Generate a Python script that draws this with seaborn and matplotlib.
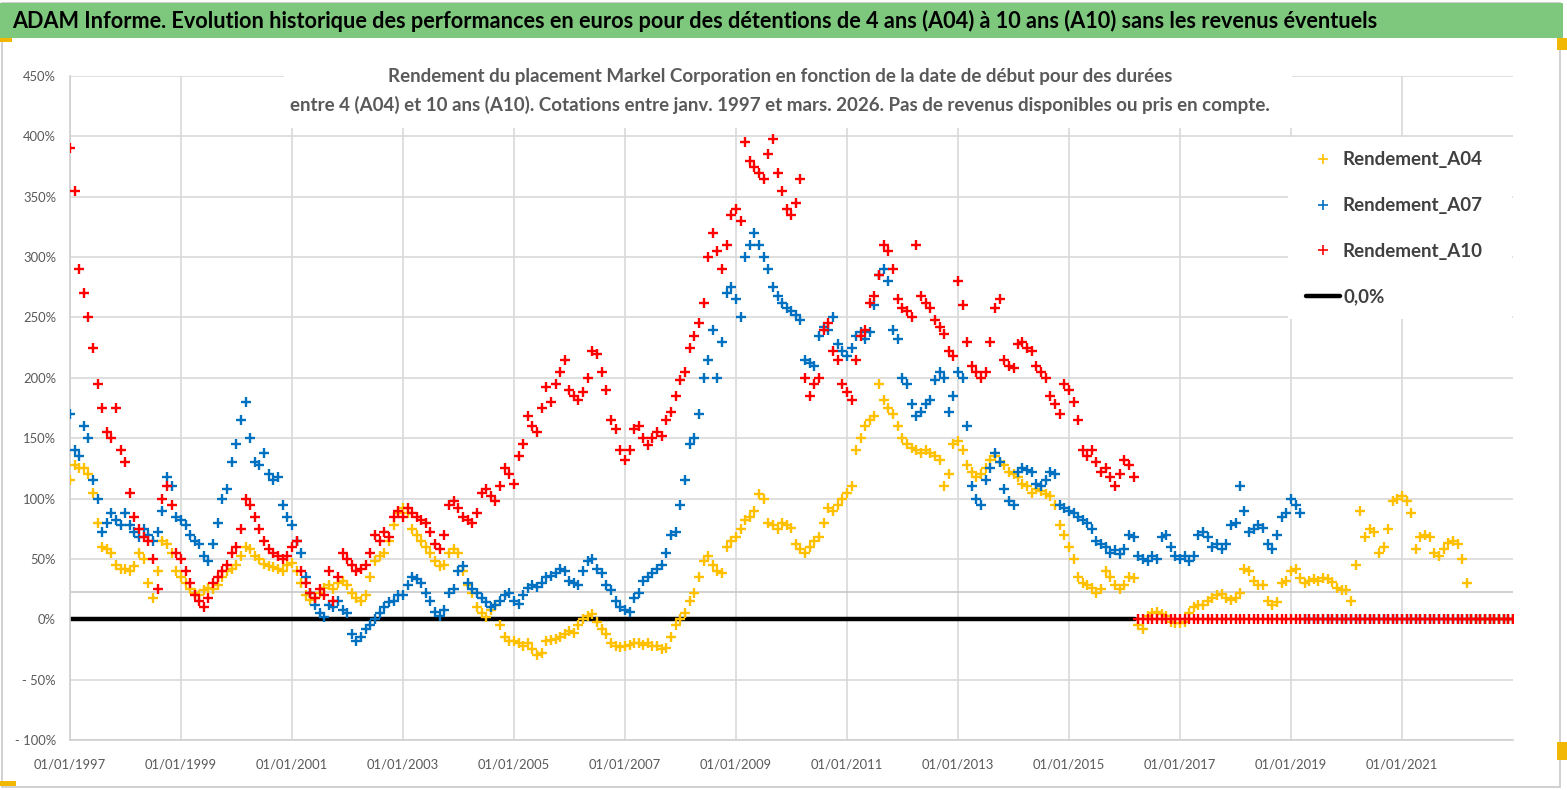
import numpy as np
import pandas as pd
import matplotlib
matplotlib.use("Agg")
import matplotlib.pyplot as plt
import matplotlib.dates as mdates
from matplotlib.lines import Line2D
from matplotlib.patches import Rectangle
import seaborn as sns

# ---------------- data (monthly readings, % return) ----------------
A04_START = "1997-01-01"
A04_VALUES = [
    115, 128, 125, 125, 120, 105, 80, 60, 58, 55, 45, 42,          # 1997
    42, 40, 44, 55, 50, 30, 18, 40, 65, 62, 55, 40,                # 1998
    35, 30, 25, 22, 20, 24, 26, 25, 28, 35, 40, 42,                # 1999
    45, 52, 60, 58, 52, 50, 46, 44, 43, 42, 40, 45,                # 2000
    47, 40, 30, 20, 16, 18, 22, 26, 28, 25, 30, 32,                # 2001
    28, 22, 18, 15, 20, 35, 48, 52, 55, 65, 78, 88,                # 2002
    92, 88, 75, 70, 65, 60, 55, 48, 44, 45, 55, 58,                # 2003
    55, 40, 28, 22, 10, 5, 2, 8, 12, -5, -15, -18,                 # 2004
    -18, -20, -22, -20, -25, -30, -28, -18, -17, -16, -15, -12,    # 2005
    -10, -11, -5, 0, 3, 4, -2, -8, -12, -20, -22, -23,             # 2006
    -22, -21, -20, -20, -21, -20, -22, -22, -25, -24, -15, -5,     # 2007
    0, 5, 15, 22, 35, 48, 52, 45, 40, 38, 60, 65,                  # 2008
    68, 75, 82, 85, 90, 104, 100, 80, 78, 75, 80, 78,              # 2009
    76, 62, 58, 55, 60, 65, 68, 80, 92, 90, 95, 100,               # 2010
    105, 110, 140, 150, 160, 165, 168, 195, 182, 175, 170, 160,    # 2011
    150, 145, 142, 140, 138, 140, 138, 135, 132, 110, 120, 145,    # 2012
    148, 140, 128, 122, 118, 120, 125, 132, 135, 130, 128, 122,    # 2013
    120, 118, 112, 110, 105, 108, 106, 104, 102, 95, 78, 70,       # 2014
    60, 50, 35, 30, 28, 26, 22, 25, 40, 35, 28, 25,                # 2015
    28, 35, 34, -5, -8, 3, 5, 6, 4, 3, -2, -3,                     # 2016
    -3, -2, 5, 10, 12, 12, 15, 18, 20, 21, 18, 16,                 # 2017
    18, 22, 42, 40, 32, 28, 28, 15, 12, 14, 30, 32,                # 2018
    40, 42, 34, 30, 32, 33, 32, 34, 33, 31, 26, 24,                # 2019
    24, 15, 45, 90, 68, 75, 72, 55, 60, 75, 98, 100,               # 2020
    102, 98, 88, 58, 68, 70, 68, 55, 52, 58, 63, 65,               # 2021
    62, 50, 30,                                                    # 2022
]
A07_START = "1997-01-01"
A07_VALUES = [
    170, 140, 135, 160, 150, 115, 100, 72, 80, 88, 82, 78,         # 1997
    88, 78, 72, 68, 75, 70, 65, 72, 90, 118, 110, 85,              # 1998
    82, 78, 70, 65, 62, 52, 48, 62, 80, 100, 108, 130,             # 1999
    145, 165, 180, 150, 130, 128, 138, 120, 115, 118, 95, 85,      # 2000
    78, 65, 55, 35, 22, 12, 5, 2, 12, 10, 15, 8,                   # 2001
    5, -12, -18, -15, -8, -5, 0, 5, 10, 14, 15, 20,                # 2002
    20, 28, 35, 33, 30, 22, 15, 6, 3, 8, 22, 25,                   # 2003
    40, 44, 30, 25, 22, 18, 14, 10, 12, 15, 20, 22,                # 2004
    15, 13, 20, 26, 28, 27, 30, 35, 36, 38, 42, 40,                # 2005
    32, 30, 28, 40, 48, 50, 42, 38, 28, 24, 15, 10,                # 2006
    8, 6, 18, 22, 32, 35, 38, 42, 45, 55, 70, 72,                  # 2007
    95, 115, 145, 150, 170, 200, 215, 240, 200, 230, 270, 275,     # 2008
    265, 250, 300, 310, 320, 310, 300, 290, 275, 268, 262, 258,    # 2009
    255, 252, 248, 215, 212, 210, 235, 242, 240, 250, 228, 222,    # 2010
    218, 225, 235, 238, 232, 238, 260, 285, 290, 280, 240, 232,    # 2011
    200, 195, 178, 168, 172, 178, 182, 198, 205, 200, 172, 185,    # 2012
    205, 200, 160, 110, 100, 95, 115, 125, 138, 130, 108, 98,      # 2013
    95, 122, 125, 124, 122, 112, 110, 115, 122, 120, 95, 92,       # 2014
    90, 88, 85, 82, 80, 75, 65, 62, 60, 55, 57, 54,                # 2015
    58, 70, 68, 52, 50, 48, 52, 50, 68, 70, 60, 52,                # 2016
    50, 52, 48, 52, 70, 72, 68, 60, 62, 58, 62, 78,                # 2017
    80, 110, 90, 72, 75, 78, 76, 62, 58, 70, 85, 88,               # 2018
    100, 95, 88,                                                   # 2019
]
A10_START = "1997-01-01"
A10_VALUES = [
    390, 355, 290, 270, 250, 225, 195, 175, 155, 150, 175, 140,    # 1997
    130, 105, 85, 75, 68, 65, 50, 25, 100, 110, 95, 55,            # 1998
    50, 40, 30, 20, 15, 10, 18, 30, 35, 40, 45, 55,                # 1999
    60, 75, 100, 95, 85, 75, 65, 58, 55, 52, 50, 52,               # 2000
    60, 65, 40, 30, 22, 18, 25, 20, 40, 15, 35, 55,                # 2001
    50, 45, 40, 42, 45, 55, 70, 65, 72, 68, 85, 90,                # 2002
    85, 92, 88, 85, 82, 80, 72, 62, 58, 70, 95, 98,                # 2003
    92, 85, 82, 80, 88, 105, 108, 102, 98, 110, 125, 120,          # 2004
    112, 135, 145, 168, 160, 155, 175, 192, 180, 195, 205, 215,    # 2005
    190, 185, 182, 188, 200, 222, 220, 205, 190, 165, 158, 140,    # 2006
    132, 140, 158, 160, 150, 144, 150, 155, 152, 165, 172, 185,    # 2007
    198, 205, 225, 235, 245, 262, 300, 320, 305, 290, 310, 335,    # 2008
    340, 330, 395, 380, 375, 370, 365, 385, 398, 370, 355, 340,    # 2009
    335, 345, 365, 200, 185, 195, 200, 240, 245, 222, 215, 195,    # 2010
    188, 182, 215, 235, 240, 262, 268, 285, 310, 305, 290, 265,    # 2011
    258, 255, 250, 310, 268, 262, 258, 248, 242, 236, 222, 218,    # 2012
    280, 260, 230, 210, 205, 200, 205, 230, 258, 265, 215, 210,    # 2013
    208, 228, 230, 225, 222, 210, 205, 200, 185, 178, 170, 195,    # 2014
    190, 180, 165, 140, 135, 140, 130, 122, 125, 118, 110, 120,    # 2015
    132, 128, 118,                                                 # 2016
]
# periods after the end of each window: no return available -> plotted at 0
A04_ZERO_START, A07_ZERO_START, A10_ZERO_START = "2022-04-01", "2019-04-01", "2016-04-01"
ZERO_END = "2023-01-01"
ZERO_LINE_DATES = ["1997-01-01", "2016-03-10"]
ZERO_LINE_VALUES = [0.0, 0.0]
AVG_LEVEL = 22.5

SERIES = ["Rendement_A04", "Rendement_A07", "Rendement_A10"]
COLORS = ["#FFC000", "#0070C0", "#FF0000"]
Y_TICKS = [-100, -50, 0, 50, 100, 150, 200, 250, 300, 350, 400, 450]
X_TICKS = ["1997-01-01", "1999-01-01", "2001-01-01", "2003-01-01", "2005-01-01",
           "2007-01-01", "2009-01-01", "2011-01-01", "2013-01-01", "2015-01-01",
           "2017-01-01", "2019-01-01", "2021-01-01"]

TITLE = ("ADAM Informe. Evolution historique des performances en euros pour des "
         "détentions de 4 ans (A04) à 10 ans (A10) sans les revenus éventuels")
SUBTITLE = ("Rendement du placement Markel Corporation en fonction de la date de début pour des durées\n"
            "entre 4 (A04) et 10 ans (A10). Cotations entre janv. 1997 et mars. 2026. "
            "Pas de revenus disponibles ou pris en compte.")

# ---------------- build frames ----------------
def frame(name, start, values, zero_start):
    d = pd.date_range(start, periods=len(values), freq="MS")
    z = pd.date_range(zero_start, ZERO_END, freq="MS")
    return (pd.DataFrame({"date": d, "val": values, "serie": name}),
            pd.DataFrame({"date": z, "val": 0.0, "serie": name}))

parts = [frame(SERIES[0], A04_START, A04_VALUES, A04_ZERO_START),
         frame(SERIES[1], A07_START, A07_VALUES, A07_ZERO_START),
         frame(SERIES[2], A10_START, A10_VALUES, A10_ZERO_START)]
zeros = pd.concat([p[1] for p in parts], ignore_index=True)
zero_line = pd.DataFrame({"date": pd.to_datetime(ZERO_LINE_DATES), "val": ZERO_LINE_VALUES})

# ---------------- figure ----------------
sns.set_theme(style="white")
FONT = ["Lato", "Open Sans", "DejaVu Sans"]
plt.rcParams["font.family"] = FONT

W, H = 1567, 790
fig = plt.figure(figsize=(W / 100, H / 100), dpi=100)
fig.patch.set_facecolor("white")
renderer = fig.canvas.get_renderer()


def fit_width(t, target_px):
    for _ in range(3):
        w = t.get_window_extent(renderer).width
        t.set_fontsize(t.get_fontsize() * target_px / w)


# chart border, title bar, selection handles
fig.add_artist(Rectangle((2 / W, 3 / H), 1558 / W, 784 / H, transform=fig.transFigure,
                         facecolor="white", edgecolor="#C8C8C8", lw=1.2, zorder=0))
fig.add_artist(Rectangle((0, 1 - 38 / H), 1563 / W, 35 / H, transform=fig.transFigure,
                         facecolor="#7DC87D", edgecolor="none", zorder=1))
for (x0, y0, w, h) in [(0, 38, 12, 4), (1557, 38, 10, 12), (1557, 742, 10, 18), (0, 781, 16, 5)]:
    fig.add_artist(Rectangle((x0 / W, 1 - (y0 + h) / H), w / W, h / H, transform=fig.transFigure,
                             facecolor="#F2B705", edgecolor="none", zorder=2))
title = fig.text(12 / W, 1 - 21 / H, TITLE, ha="left", va="center", fontsize=17,
                 fontweight="bold", color="black", zorder=3)
fit_width(title, 1366)

ax = fig.add_axes([70 / W, 1 - 740 / H, 1443 / W, 664 / H])
ax.set_facecolor("none")

for name, col, (pts, _) in zip(SERIES, COLORS, parts):
    sns.scatterplot(data=pts, x="date", y="val", marker="+", color=col, s=60,
                    linewidth=1.7, ax=ax, zorder=3, legend=False)
sns.lineplot(data=zero_line, x="date", y="val", color="black", lw=3.2, ax=ax,
             zorder=2, legend=False)
for name, col in zip(SERIES, COLORS):
    z = zeros[zeros["serie"] == name]
    sns.scatterplot(data=z, x="date", y="val", marker="+", color=col, s=60,
                    linewidth=1.7, ax=ax, zorder=4, legend=False)

ax.axhline(AVG_LEVEL, color="#C8C8C8", lw=1.2, zorder=1)

ax.set_xlim(pd.Timestamp("1997-01-01"), pd.Timestamp(ZERO_END))
ax.set_ylim(-100, 450)
ax.set_yticks(Y_TICKS)
ax.set_yticklabels([("- %d%%" % -v) if v < 0 else "%d%%" % v for v in Y_TICKS])
ax.set_xticks(pd.to_datetime(X_TICKS))
ax.xaxis.set_major_formatter(mdates.DateFormatter("%d/%m/%Y"))
ax.grid(True, color="#D9D9D9", lw=1.2, zorder=0)
ax.set_axisbelow(True)
for s in ["top", "right"]:
    ax.spines[s].set_visible(False)
for s in ["left", "bottom"]:
    ax.spines[s].set_color("#D0D0D0")
    ax.spines[s].set_linewidth(1.2)
ax.tick_params(axis="both", length=0, labelsize=12, labelcolor="#595959")
ax.tick_params(axis="x", pad=13)
ax.tick_params(axis="y", pad=10)
ax.set_xlabel("")
ax.set_ylabel("")

# fit tick label sizes to the reference widths
fig.canvas.draw()
xw = ax.get_xticklabels()[0].get_window_extent(renderer).width
ax.tick_params(axis="x", labelsize=12 * 72 / xw)
yw = ax.get_yticklabels()[-1].get_window_extent(renderer).width
ax.tick_params(axis="y", labelsize=12 * 33 / yw)

# subtitle box
fig.add_artist(Rectangle((284 / W, 1 - 128 / H), 1008 / W, 70 / H, transform=fig.transFigure,
                         facecolor="white", edgecolor="none", zorder=5))
sub = fig.text(780 / W, 1 - 91 / H, SUBTITLE, ha="center", va="center", fontsize=14,
               fontweight="bold", color="#595959", linespacing=1.75, zorder=6)
fit_width(sub, 986)

# legend box + legend
fig.add_artist(Rectangle((1288 / W, 1 - 319 / H), 224 / W, 182 / H, transform=fig.transFigure,
                         facecolor="white", edgecolor="none", zorder=5))
handles = [Line2D([], [], marker="+", ls="none", color=c, markersize=7, mew=1.2) for c in COLORS]
handles.append(Line2D([], [], color="black", lw=3.2))
labels = SERIES + ["0,0%"]

probe = fig.text(0, 0, labels[0], fontsize=14, fontweight="bold")
fit_width(probe, 141)
LEG_FS = probe.get_fontsize()
probe.remove()
em = LEG_FS * 100 / 72.0


def make_legend(spacing, top_px):
    lg = fig.legend(handles, labels, loc="upper left",
                    bbox_to_anchor=(1306 / W, 1 - top_px / H), bbox_transform=fig.transFigure,
                    frameon=False, prop={"size": LEG_FS, "weight": "bold"},
                    labelspacing=spacing, handlelength=34 / em, handletextpad=3 / em,
                    borderpad=0, borderaxespad=0)
    lg.set_zorder(7)
    for t in lg.get_texts():
        t.set_color("#404040")
    return lg


spacing, top = 1.0, 145
leg = make_legend(spacing, top)
fig.canvas.draw()
c = [H - (t.get_window_extent(renderer).y0 + t.get_window_extent(renderer).y1) / 2 for t in leg.get_texts()]
step = (c[-1] - c[0]) / 3
spacing += (45.7 - step) / em
leg.remove()
leg = make_legend(spacing, top)
fig.canvas.draw()
c0 = H - (leg.get_texts()[0].get_window_extent(renderer).y0 + leg.get_texts()[0].get_window_extent(renderer).y1) / 2
top += 160 - c0
leg.remove()
leg = make_legend(spacing, top)

fig.savefig("out.png", dpi=100)
